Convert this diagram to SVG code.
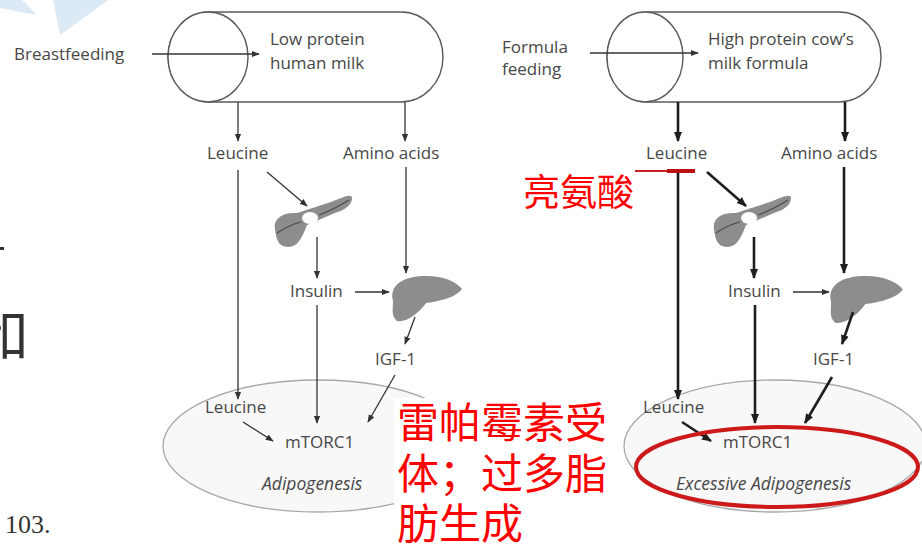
<svg xmlns="http://www.w3.org/2000/svg" width="922" height="544" viewBox="0 0 922 544">
  <style>
    .lbl { font-family: "Open Sans", "Liberation Sans", sans-serif; font-size: 17px; fill: #474747; }
    .it { font-style: italic; font-size: 17.5px; }
    .cn { font-family: "Noto Sans CJK SC", sans-serif; fill: #ff0000; }
    .thin { stroke: #333; stroke-width: 1.3; fill: none; marker-end: url(#ah); }
    .thick { stroke: #1e1e1e; stroke-width: 2.6; fill: none; marker-end: url(#ahb); }
    .pill { fill: #fff; stroke: #5a5a5a; stroke-width: 1.4; }
    .cell { fill: #f8f8f8; stroke: #a8a8a8; stroke-width: 1.3; }
    .organ { fill: #8d8d8d; }
    .vein { fill: none; stroke: #4a4a4a; stroke-width: 1.2; }
  </style>
  <defs>
    <marker id="ah" viewBox="0 0 10 10" refX="9" refY="5" markerWidth="8" markerHeight="8" markerUnits="userSpaceOnUse" orient="auto">
      <path d="M0,1 L10,5 L0,9 Z" fill="#333"/>
    </marker>
    <marker id="ahb" viewBox="0 0 10 10" refX="9" refY="5" markerWidth="10" markerHeight="10" markerUnits="userSpaceOnUse" orient="auto">
      <path d="M0,1 L10,5 L0,9 Z" fill="#1e1e1e"/>
    </marker>
    <g id="pancreas">
      <path class="organ" d="M2,34 C0,22 12,17 24,18 L58,7 C70,2 79,-2 79,3 C79,10 72,15 62,18 L34,30 C30,40 26,52 15,52 C5,52 3,43 2,34 Z"/>
      <path class="vein" d="M4,38 Q16,30 28,27 M46,20 Q60,15 76,5"/>
      <ellipse cx="37" cy="23" rx="8" ry="6" fill="#fff"/>
    </g>
    <g id="liver">
      <path class="organ" d="M3,25 C-1,10 12,1 32,0 C52,-1 66,5 72,13 C66,21 52,25 36,27 C29,37 16,47 7,45 C1,40 3,33 3,25 Z"/>
    </g>
  </defs>

  <rect width="922" height="544" fill="#fff"/>

  <!-- decorative fragments along the page edges -->
  <g id="edge-fragments">
    <polygon points="0,0 22,0 37,15 0,8" fill="#dbeaf5"/>
    <polygon points="53,0 108,0 60,35" fill="#dbeaf5"/>
    <text x="425" y="-4" class="cn" font-size="37">亮氨酸</text>
    <rect x="0" y="247" width="4" height="3" fill="#333"/>
    <text x="-27" y="356" font-family="Noto Sans CJK SC, sans-serif" font-size="56" fill="#333">和</text>
    <text x="5" y="533" font-family="Liberation Serif, serif" font-size="26" fill="#333">103.</text>
  </g>

  <!-- cell compartments -->
  <g id="cell-left">
    <ellipse class="cell" cx="318" cy="446" rx="155" ry="66"/>
  </g>
  <g id="cell-right">
    <ellipse class="cell" cx="775" cy="446" rx="151" ry="66"/>
  </g>

  <!-- feeding source capsules -->
  <g id="milk-left">
    <rect class="pill" x="168" y="12" width="275" height="90" rx="42" ry="45"/>
    <ellipse class="pill" cx="208" cy="57" rx="40" ry="45"/>
    <text class="lbl" x="270" y="45">Low protein</text>
    <text class="lbl" x="270" y="69">human milk</text>
  </g>
  <g id="milk-right">
    <rect class="pill" x="607" y="12" width="274" height="90" rx="42" ry="45"/>
    <ellipse class="pill" cx="645" cy="57" rx="38" ry="45"/>
    <text class="lbl" x="708" y="45">High protein cow’s</text>
    <text class="lbl" x="708" y="69">milk formula</text>
  </g>

  <g id="breastfeeding"><text class="lbl" x="14" y="60">Breastfeeding</text></g>
  <g id="formula-feeding">
    <text class="lbl" x="502" y="53">Formula</text>
    <text class="lbl" x="502" y="75">feeding</text>
  </g>

  <!-- left pathway nodes -->
  <g id="leucine-l"><text class="lbl" x="207" y="159">Leucine</text></g>
  <g id="amino-l"><text class="lbl" x="343" y="159">Amino acids</text></g>
  <g id="pancreas-l"><use href="#pancreas" x="273" y="195"/></g>
  <g id="insulin-l"><text class="lbl" x="290" y="297">Insulin</text></g>
  <g id="liver-l"><use href="#liver" x="390" y="276"/></g>
  <g id="igf1-l"><text class="lbl" x="375" y="365">IGF-1</text></g>
  <g id="leucine-cell-l"><text class="lbl" x="205" y="413">Leucine</text></g>
  <g id="mtorc1-l"><text class="lbl" x="285" y="448">mTORC1</text></g>
  <g id="adipo-l"><text class="lbl it" x="262" y="490">Adipogenesis</text></g>

  <!-- right pathway nodes -->
  <g id="leucine-r"><text class="lbl" x="646" y="159">Leucine</text></g>
  <g id="amino-r"><text class="lbl" x="781" y="159">Amino acids</text></g>
  <g id="pancreas-r"><use href="#pancreas" x="712" y="195"/></g>
  <g id="insulin-r"><text class="lbl" x="728" y="297">Insulin</text></g>
  <g id="liver-r"><use href="#liver" x="828" y="276" transform="translate(828 276) scale(1.04) translate(-828 -276)"/></g>
  <g id="igf1-r"><text class="lbl" x="813" y="365">IGF-1</text></g>
  <g id="leucine-cell-r"><text class="lbl" x="643" y="413">Leucine</text></g>
  <g id="mtorc1-r"><text class="lbl" x="723" y="448">mTORC1</text></g>
  <g id="adipo-r"><text class="lbl it" x="676" y="490">Excessive Adipogenesis</text></g>

  <!-- connectors -->
  <g id="connectors">
    <line class="thin" x1="152" y1="54" x2="259" y2="54"/>
    <line class="thin" x1="238" y1="102" x2="238" y2="141"/>
    <line class="thin" x1="405" y1="102" x2="405" y2="141"/>
    <line class="thin" x1="238" y1="170" x2="238" y2="399"/>
    <line class="thin" x1="267" y1="172" x2="307" y2="206"/>
    <line class="thin" x1="317" y1="237" x2="317" y2="278"/>
    <line class="thin" x1="406" y1="167" x2="406" y2="273"/>
    <line class="thin" x1="355" y1="292" x2="389" y2="292"/>
    <line class="thin" x1="415" y1="317" x2="405" y2="344"/>
    <line class="thin" x1="317" y1="305" x2="317" y2="423"/>
    <line class="thin" x1="395" y1="375" x2="368" y2="422"/>
    <line class="thin" x1="243" y1="422" x2="273" y2="441"/>

    <line class="thin" x1="590" y1="53" x2="698" y2="53"/>
    <line class="thick" x1="678" y1="102" x2="678" y2="141"/>
    <line class="thick" x1="845" y1="102" x2="845" y2="141"/>
    <line class="thick" x1="678" y1="172" x2="678" y2="399"/>
    <line class="thick" x1="707" y1="172" x2="746" y2="206"/>
    <line class="thick" x1="754" y1="237" x2="754" y2="278"/>
    <line class="thick" x1="844" y1="167" x2="844" y2="273"/>
    <line class="thin" x1="793" y1="292" x2="829" y2="292"/>
    <line class="thick" x1="853" y1="312" x2="842" y2="344"/>
    <line class="thick" x1="755" y1="305" x2="755" y2="423"/>
    <line class="thick" x1="832" y1="377" x2="805" y2="423"/>
    <line class="thick" x1="682" y1="422" x2="711" y2="441"/>
  </g>

  <!-- annotations -->
  <g id="leucine-block">
    <rect x="635" y="170" width="32" height="2" fill="#cc2222"/>
    <rect x="667" y="169" width="28" height="4" fill="#bb1111"/>
    <text class="cn" x="523" y="206" font-size="37">亮氨酸</text>
  </g>
  <g id="excess-ring">
    <ellipse cx="777" cy="467" rx="141" ry="40" fill="none" stroke="#cc1a1a" stroke-width="4"/>
  </g>
  <g id="mtor-note">
    <rect x="394" y="398" width="220" height="146" fill="#fff"/>
    <text class="cn" font-size="42">
      <tspan x="397" y="438">雷帕霉素受</tspan>
      <tspan x="397" y="489">体；过多脂</tspan>
      <tspan x="397" y="539">肪生成</tspan>
    </text>
  </g>
</svg>
